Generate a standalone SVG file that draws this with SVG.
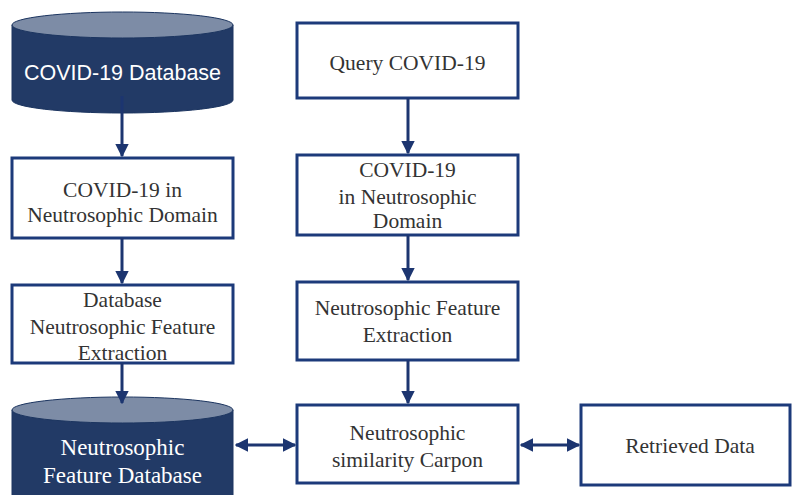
<svg xmlns="http://www.w3.org/2000/svg" width="795" height="495" viewBox="0 0 795 495">
<defs>
<style>
.box{fill:#ffffff;stroke:#1c3a7a;stroke-width:3}
.cylb{fill:#223a66;stroke:#1c3560;stroke-width:1}
.cylt{fill:#7d8ca6;stroke:#1c3560;stroke-width:1}
.t{font-family:"Liberation Serif","Times New Roman",serif;font-size:21.5px;fill:#333333;text-anchor:middle}
.w{font-family:"Liberation Serif","Times New Roman",serif;font-size:23px;fill:#ffffff;text-anchor:middle}
.ws{font-family:"Liberation Sans",Arial,sans-serif;font-size:21.5px;fill:#ffffff;text-anchor:middle}
.c{stroke:#1c3570;stroke-width:3;fill:none}
</style>
<marker id="ah" viewBox="0 0 10 10" refX="9" refY="5" markerWidth="4.5" markerHeight="4.5" orient="auto-start-reverse" markerUnits="strokeWidth">
<path d="M0,0 L10,5 L0,10 Z" fill="#1c3570"/>
</marker>
</defs>
<rect width="795" height="495" fill="#ffffff"/>

<g id="covid-db">
<path class="cylb" d="M12,25 L12,100 A110.5,13 0 0 0 233,100 L233,25 Z"/>
<ellipse class="cylt" cx="122.5" cy="25" rx="110.5" ry="13"/>
<text class="ws" x="122.5" y="80">COVID-19 Database</text>
</g>

<g id="covid-neutro">
<rect class="box" x="12" y="158" width="221" height="80"/>
<text class="t" x="122.5" y="197">COVID-19 in</text>
<text class="t" x="122.5" y="222">Neutrosophic Domain</text>
</g>

<g id="db-feature">
<rect class="box" x="12" y="285" width="221" height="78"/>
<text class="t" x="122.5" y="307">Database</text>
<text class="t" x="122.5" y="334">Neutrosophic Feature</text>
<text class="t" x="122.5" y="360">Extraction</text>
</g>

<g id="feature-db">
<path class="cylb" d="M12,410 L12,500 L233,500 L233,410 Z"/>
<ellipse class="cylt" cx="122.5" cy="410" rx="110.5" ry="13"/>
<text class="w" x="122.5" y="455">Neutrosophic</text>
<text class="w" x="122.5" y="483">Feature Database</text>
</g>

<g id="query">
<rect class="box" x="297" y="23" width="221" height="75"/>
<text class="t" x="407.5" y="70">Query COVID-19</text>
</g>

<g id="query-neutro">
<rect class="box" x="297" y="155" width="221" height="80"/>
<text class="t" x="407.5" y="177">COVID-19</text>
<text class="t" x="407.5" y="204">in Neutrosophic</text>
<text class="t" x="407.5" y="228">Domain</text>
</g>

<g id="query-feature">
<rect class="box" x="297" y="282" width="221" height="78"/>
<text class="t" x="407.5" y="315">Neutrosophic Feature</text>
<text class="t" x="407.5" y="342">Extraction</text>
</g>

<g id="similarity">
<rect class="box" x="297" y="405" width="221" height="78"/>
<text class="t" x="407.5" y="440">Neutrosophic</text>
<text class="t" x="407.5" y="467">similarity Carpon</text>
</g>

<g id="retrieved">
<rect class="box" x="581" y="405" width="209" height="80"/>
<text class="t" x="690" y="453">Retrieved Data</text>
</g>

<g id="connectors">
<line class="c" x1="122" y1="96" x2="122" y2="156" marker-end="url(#ah)"/>
<line class="c" x1="122" y1="238" x2="122" y2="283" marker-end="url(#ah)"/>
<line class="c" x1="122" y1="363" x2="122" y2="403" marker-end="url(#ah)"/>
<line class="c" x1="408" y1="98" x2="408" y2="153" marker-end="url(#ah)"/>
<line class="c" x1="408" y1="235" x2="408" y2="280" marker-end="url(#ah)"/>
<line class="c" x1="408" y1="360" x2="408" y2="403" marker-end="url(#ah)"/>
<line class="c" x1="236" y1="445" x2="295" y2="445" marker-start="url(#ah)" marker-end="url(#ah)"/>
<line class="c" x1="521" y1="445" x2="579" y2="445" marker-start="url(#ah)" marker-end="url(#ah)"/>
</g>
</svg>
